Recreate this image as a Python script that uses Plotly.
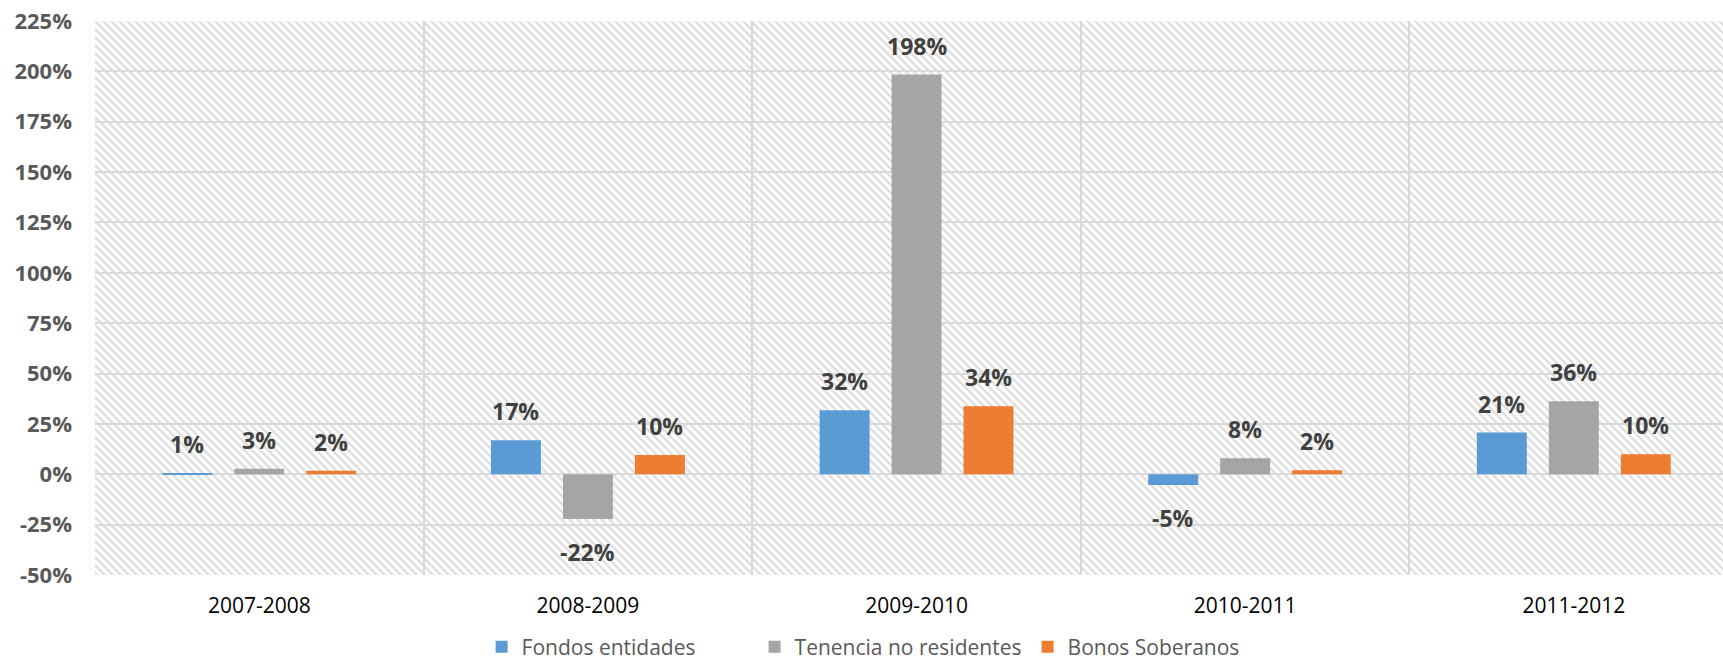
import base64
import plotly.graph_objects as go

categories = ["2007-2008", "2008-2009", "2009-2010", "2010-2011", "2011-2012"]
series_names = ["Fondos entidades", "Tenencia no residentes", "Bonos Soberanos"]
fondos = [0.6, 16.9, 31.8, -5.3, 20.7]
tenencia = [2.8, -22.2, 198.4, 8.0, 36.3]
bonos = [1.8, 9.6, 33.8, 2.0, 9.9]
colors = ["#5B9BD5", "#A5A5A5", "#ED7D31"]
y_ticks = [-50, -25, 0, 25, 50, 75, 100, 125, 150, 175, 200, 225]
y_ticktext = [f"{v}%" for v in y_ticks]

series = [fondos, tenencia, bonos]

W, H = 1723, 666
ML, MR, MT, MB = 95, 0, 21, 91
PW, PH = W - ML - MR, H - MT - MB

# diagonal hatch background as svg image (decoration only)
svg = f'''<svg xmlns="http://www.w3.org/2000/svg" width="{PW}" height="{PH}" viewBox="0 0 {PW} {PH}" preserveAspectRatio="none">
<defs><pattern id="p" width="8" height="8" patternUnits="userSpaceOnUse">
<rect width="8" height="8" fill="#ffffff"/>
<path d="M-2,-2 L10,10 M-2,6 L2,10 M6,-2 L10,2" stroke="#e0e0e0" stroke-width="2.5"/>
</pattern></defs>
<rect width="{PW}" height="{PH}" fill="url(#p)"/></svg>'''
src = "data:image/svg+xml;base64," + base64.b64encode(svg.encode()).decode()

fig = go.Figure()
for name, vals, col in zip(series_names, series, colors):
    fig.add_trace(go.Bar(x=categories, y=vals, name=name, marker=dict(color=col, line=dict(width=0))))

slot = PW / 4.954 * (1 - 0.343) / 3
annotations = []
for i, vals in enumerate(series):
    for cat, v in zip(categories, vals):
        pos = v >= 0
        annotations.append(dict(
            x=cat, y=v, xref="x", yref="y", text=f"{round(v):.0f}%", showarrow=False,
            xshift=(i - 1) * slot, yshift=11 if pos else -15,
            yanchor="bottom" if pos else "top",
            font=dict(family="Open Sans", size=23, color="#404040", weight="bold")))

fig.update_layout(
    width=W, height=H,
    margin=dict(l=ML, r=MR, t=MT, b=MB, autoexpand=False),
    paper_bgcolor="white", plot_bgcolor="white",
    barmode="group", bargap=0.343, bargroupgap=0.306,
    font=dict(family="Open Sans"),
    images=[dict(source=src, xref="paper", yref="paper", x=0, y=1, sizex=1, sizey=1,
                 sizing="stretch", xanchor="left", yanchor="top", layer="below")],
    annotations=annotations,
    legend=dict(orientation="h", x=0.489, xanchor="center", y=-0.13, yanchor="middle",
                font=dict(size=21, color="#595959"), traceorder="normal",
                entrywidth=228, entrywidthmode="pixels",
                bgcolor="rgba(0,0,0,0)", borderwidth=0),
    showlegend=True,
)
fig.update_xaxes(range=[-0.5, 4.454], tickson="boundaries", showgrid=True, gridcolor="#d9d9d9",
                 gridwidth=2, ticks="", tickfont=dict(size=21, color="#000000"),
                 ticklabelstandoff=16, showline=False, zeroline=False, automargin=False)
fig.update_yaxes(range=[-50, 225], tickvals=y_ticks, ticktext=y_ticktext, showgrid=True,
                 gridcolor="#d9d9d9", gridwidth=2, zeroline=True, zerolinecolor="#d9d9d9",
                 zerolinewidth=2, tickfont=dict(size=22, color="#595959", weight="bold"),
                 ticklabelstandoff=22, automargin=False)

fig.write_html("out.html")
